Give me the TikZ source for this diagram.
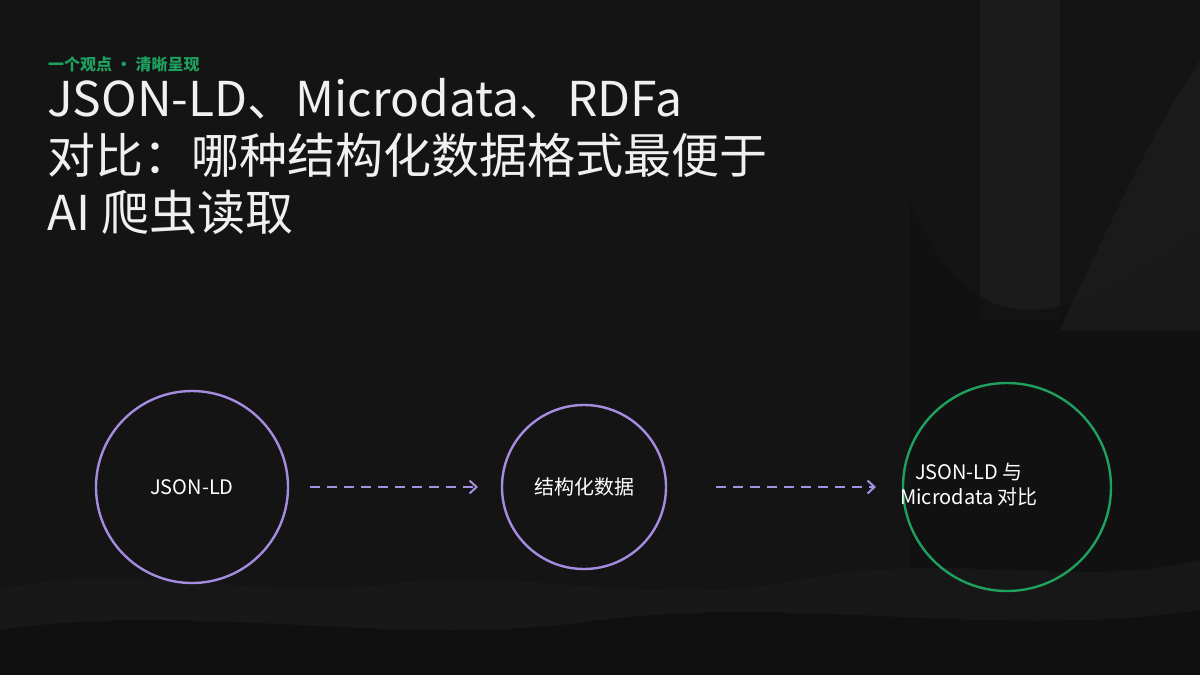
\documentclass[tikz,border=0pt]{standalone}
\usepackage{fontspec}
\setmainfont{Noto Sans CJK SC}
\usetikzlibrary{arrows.meta}
\begin{document}
\begin{tikzpicture}[x=1pt,y=-1pt,
  circ/.style={draw=#1,line width=2.4pt,circle,inner sep=0pt},
  lbl/.style={text=white,font=\fontsize{20}{25}\selectfont,align=center},
  arr/.style={draw={rgb,255:red,165;green,145;blue,225},line width=2pt,dash pattern=on 10pt off 7pt,-{Straight Barb[length=7pt,width=13pt]}}]
\definecolor{lav}{RGB}{165,140,225}
\definecolor{grn}{RGB}{30,160,95}
\fill[black!92!white] (0,0) rectangle (1200,675);
\useasboundingbox (0,0) rectangle (1200,675);
% right decorative columns
\fill[white!8!black,opacity=0.6] (860,0) rectangle (1200,400);
\fill[white!13!black,opacity=0.6] (980,0) rectangle (1060,320);
\fill[white!6!black,opacity=0.6] (910,200) .. controls (980,380) and (1100,300) .. (1200,230) -- (1200,675) -- (910,675) -- cycle;
\fill[white!12!black,opacity=0.6] (1060,330) .. controls (1120,200) and (1160,120) .. (1200,60) -- (1200,330) -- cycle;
% bottom waves
\fill[white!10!black,opacity=0.8] (0,590) .. controls (120,560) and (250,600) .. (380,585) .. controls (520,565) and (650,610) .. (800,580) .. controls (950,550) and (1080,590) .. (1200,560) -- (1200,675) -- (0,675) -- cycle;
\fill[white!6!black,opacity=0.8] (0,630) .. controls (200,600) and (400,650) .. (600,620) .. controls (800,595) and (1000,640) .. (1200,610) -- (1200,675) -- (0,675) -- cycle;
% texts
\node[anchor=west,text=grn,font=\fontsize{16}{18}\selectfont\bfseries,inner sep=0pt] (sub) at (48,64) {一个观点 · 清晰呈现};
\node[anchor=north west,text=white!94!black,font=\fontsize{48}{57}\selectfont,align=left,inner sep=0pt] (title) at (47,78)
 {JSON-LD、Microdata、RDFa\\对比：哪种结构化数据格式最便于\\AI 爬虫读取};
% circles
\node[circ=lav,minimum size=192pt] (a) at (192,487) {};
\node[circ=lav,minimum size=164pt] (b) at (584,487) {};
\node[circ=grn,minimum size=208pt] (c) at (1007,487) {};
\node[lbl] at (a) {JSON-LD};
\node[lbl] at (b) {结构化数据};
\node[lbl] at (969,485) {JSON-LD 与\\Microdata 对比};
\coordinate (a1) at (310,487);\coordinate (b0) at (478,487);
\coordinate (b1) at (716,487);\coordinate (c0) at (876,487);
\draw[arr] (a1) -- (b0);
\draw[arr] (b1) -- (c0);
\end{tikzpicture}
\end{document}
